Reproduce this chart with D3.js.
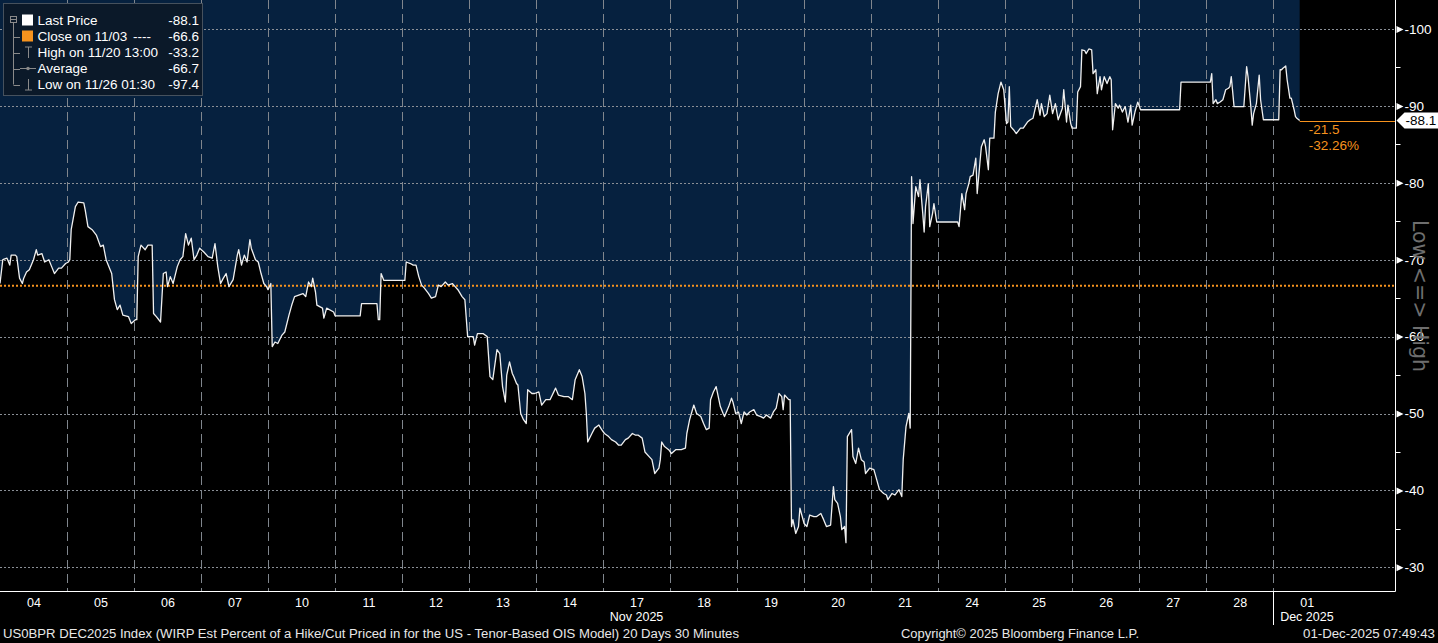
<!DOCTYPE html>
<html><head><meta charset="utf-8">
<script src="https://cdn.jsdelivr.net/npm/d3@7"></script>
<style>html,body{margin:0;padding:0;background:#000;overflow:hidden}</style>
</head><body><svg id="c" width="1438" height="643"></svg>
<script>
// ---------- DATA ----------
// 30-minute bar index since 04 Nov (48 bars per trading day)
const bars = [0,2,5,7,8,11,12,14,16,17,19,21,24,26,27,30,32,35,37,39,42,44,47,49,50,51,54,56,60,61,63,66,69,72,74,76,80,82,84,86,88,92,94,97,98,99,101,104,106,109,110,112,115,117,119,120,122,124,127,129,131,133,135,137,139,141,143,146,149,152,154,156,158,160,162,164,167,170,171,173,175,177,179,180,183,185,187,189,191,192,194,195,197,199,202,204,207,209,211,214,217,219,221,223,224,226,227,231,232,234,239,240,258,259,270,271,272,273,275,290,291,294,296,298,300,302,304,307,309,312,314,316,319,321,324,326,328,331,333,335,339,340,342,346,349,351,353,355,356,358,360,362,363,365,367,368,370,371,373,375,377,378,381,383,386,388,391,394,398,400,404,407,410,412,415,417,419,420,421,424,426,429,431,433,436,438,441,443,445,448,450,453,455,457,460,462,465,467,469,472,473,474,476,479,481,484,486,488,491,492,494,497,499,502,504,506,508,509,511,513,516,518,519,522,524,525,527,529,531,533,535,537,540,542,545,547,549,552,554,556,558,560,561,562,565,566,567,568,570,572,573,576,578,580,583,585,588,590,592,595,597,598,600,602,603,605,606,607,610,611,613,615,617,619,620,623,626,628,630,633,635,636,639,641,644,646,647,649,651,652,653,654,656,658,659,661,662,663,665,666,668,669,671,686,687,689,691,692,694,695,697,699,700,702,703,705,706,708,709,712,713,715,717,719,721,722,723,724,726,728,731,733,736,738,740,743,745,746,748,750,752,754,756,758,761,762,764,765,767,768,771,772,774,775,777,778,780,782,783,785,786,788,789,791,793,795,796,797,799,801,802,804,806,808,810,811,813,815,817,845,846,867,868,869,871,872,874,876,878,880,881,882,884,891,893,894,896,897,898,900,902,903,905,916,917,918,919,921,922,924,925,927,928,929,931];
const values = [-66.9,-70.0,-70.2,-69.3,-70.6,-70.6,-70.4,-67.6,-66.9,-67.6,-68.4,-68.7,-70.0,-71.3,-70.6,-70.8,-69.7,-70.0,-69.1,-68.2,-68.9,-68.9,-69.5,-69.7,-70.0,-73.9,-76.9,-77.5,-77.4,-76.5,-74.3,-73.9,-73.2,-71.7,-71.9,-70.0,-68.2,-64.8,-63.5,-64.1,-62.8,-62.6,-61.7,-62.2,-62.2,-70.4,-71.9,-71.3,-71.9,-71.9,-63.0,-62.6,-61.9,-68.2,-68.4,-66.5,-67.8,-66.9,-69.1,-70.0,-70.4,-73.4,-71.9,-72.8,-70.0,-70.6,-71.5,-71.0,-70.4,-70.2,-72.1,-69.1,-66.9,-67.6,-68.2,-66.5,-67.4,-70.6,-71.3,-69.3,-70.6,-69.7,-72.6,-71.5,-70.0,-69.7,-68.2,-66.9,-66.5,-66.1,-66.9,-58.7,-59.3,-59.1,-60.2,-60.6,-62.8,-64.1,-65.2,-65.4,-65.6,-65.2,-67.1,-66.5,-67.6,-65.8,-64.1,-63.7,-62.4,-63.7,-63.2,-62.7,-62.7,-64.3,-64.3,-62.2,-62.2,-68.2,-67.3,-67.3,-69.7,-69.5,-69.3,-69.3,-67.8,-66.7,-66.3,-65.6,-65.0,-65.2,-66.7,-66.5,-67.1,-66.7,-66.9,-66.5,-66.1,-65.2,-64.8,-60.0,-60.0,-58.9,-60.4,-60.4,-60.0,-54.8,-54.4,-57.0,-58.3,-57.8,-53.5,-51.5,-55.0,-56.7,-55.2,-54.8,-53.9,-53.7,-50.0,-49.2,-48.7,-53.1,-52.6,-52.6,-52.8,-51.1,-51.8,-51.8,-53.3,-52.4,-52.2,-52.2,-51.8,-54.4,-55.7,-54.8,-52.6,-50.0,-46.3,-47.4,-48.1,-48.5,-47.9,-47.4,-47.0,-46.6,-46.3,-45.9,-45.9,-46.6,-46.8,-47.4,-47.2,-47.2,-46.8,-45.0,-44.4,-44.0,-42.2,-42.9,-44.0,-46.3,-45.7,-45.3,-44.8,-45.3,-45.3,-45.3,-45.5,-47.4,-49.2,-51.1,-50.0,-49.6,-48.7,-47.9,-48.1,-51.8,-52.8,-53.5,-50.9,-50.0,-49.6,-50.9,-52.0,-51.5,-50.0,-50.2,-48.7,-50.2,-49.8,-50.2,-50.5,-49.8,-49.6,-49.4,-49.8,-49.4,-50.2,-50.7,-52.6,-52.2,-50.5,-52.4,-51.8,-51.8,-35.3,-36.2,-34.4,-35.3,-37.7,-35.7,-35.3,-36.8,-36.6,-36.6,-37.0,-36.2,-35.3,-35.5,-40.5,-38.8,-38.3,-36.6,-34.9,-35.3,-33.2,-47.0,-47.9,-44.4,-43.5,-45.5,-44.0,-43.7,-42.2,-42.9,-42.7,-41.4,-40.1,-39.6,-39.4,-38.8,-39.6,-39.4,-40.1,-39.2,-44.0,-48.3,-50.0,-48.1,-80.8,-74.7,-79.5,-78.2,-80.4,-76.0,-73.6,-76.9,-79.9,-74.3,-76.0,-77.3,-74.9,-74.9,-74.3,-78.6,-76.5,-78.6,-79.9,-80.8,-81.0,-83.2,-78.6,-82.7,-84.7,-85.6,-84.7,-81.7,-85.8,-85.8,-89.2,-91.6,-93.1,-92.1,-87.7,-87.9,-92.5,-87.3,-86.9,-86.4,-87.1,-87.1,-87.9,-88.2,-88.4,-90.8,-88.8,-90.3,-88.6,-89.0,-91.4,-89.0,-90.3,-88.2,-89.7,-92.1,-87.9,-90.1,-87.7,-87.1,-87.1,-91.8,-92.5,-97.3,-97.2,-96.8,-97.4,-97.3,-94.2,-94.7,-91.6,-93.8,-92.1,-93.8,-92.9,-93.8,-93.4,-86.9,-90.3,-89.7,-90.1,-89.2,-89.9,-87.9,-90.1,-87.5,-89.2,-90.5,-89.5,-89.5,-93.1,-93.1,-94.2,-90.3,-90.8,-90.3,-90.5,-90.8,-92.1,-92.3,-92.5,-93.8,-89.9,-89.9,-95.1,-93.8,-89.9,-87.5,-89.0,-90.3,-94.0,-90.8,-88.2,-88.2,-94.7,-94.7,-94.9,-95.2,-93.4,-91.0,-91.0,-89.5,-88.6,-88.4,-88.1];

const days = ["04","05","06","07","10","11","12","13","14","17","18","19","20","21","24","25","26","27","28","01"];
const months = ["Nov 2025","Dec 2025"];
const majorTicks = [-100,-90,-80,-70,-60,-50,-40,-30];
const minorTicks = [-95,-85,-75,-65,-55,-45,-35];
const closeValue = -66.6;
const lastValue = -88.1;
const changeTexts = ["-21.5","-32.26%"];
const legendLabels = ["Last Price","Close on 11/03","High on 11/20 13:00","Average","Low on 11/26 01:30"];
const legendValues = ["-88.1","-66.6","-33.2","-66.7","-97.4"];
const footerLeft = "US0BPR DEC2025 Index (WIRP Est Percent of a Hike/Cut Priced in for the US - Tenor-Based OIS Model) 20 Days 30 Minutes";
const footerMid = "Copyright\u00A9 2025 Bloomberg Finance L.P.";
const footerRight = "01-Dec-2025 07:49:43";
const sideLabel = "Low <=> High";

// ---------- LAYOUT ----------
const W = 1438, H = 643;
const PR = 1395.5, PB = 591;
const barsPerDay = 48, totalBars = 1000;
const NAVY = "#06213f", ORANGE = "#f7931e";
const FONT = "'Liberation Sans', Arial, sans-serif";

const x = d3.scaleLinear().domain([0, totalBars]).range([0, 1396]);
const y = d3.scaleLinear().domain([-103.77, -26.92]).range([0, PB]);

const svg = d3.select("#c");
svg.append("rect").attr("width", W).attr("height", H).attr("fill", "#000");

const data = bars.map((b, i) => ({ b, v: values[i] }));

// area above the line (navy)
svg.append("path").datum(data)
  .attr("fill", NAVY)
  .attr("d", d3.area().x(d => x(d.b)).y0(0).y1(d => y(d.v)));

// horizontal grid
svg.append("g").selectAll("line").data(majorTicks).join("line")
  .attr("x1", 0).attr("x2", PR)
  .attr("y1", d => Math.round(y(d)) + 0.5).attr("y2", d => Math.round(y(d)) + 0.5)
  .attr("stroke", "#8a8f96").attr("stroke-width", 1).attr("stroke-dasharray", "2,2");

// vertical day grid
const boundaries = d3.range(1, days.length).map(i => i * barsPerDay);
svg.append("g").selectAll("line").data(boundaries).join("line")
  .attr("x1", d => Math.round(x(d)) + 0.5).attr("x2", d => Math.round(x(d)) + 0.5)
  .attr("y1", 0).attr("y2", PB)
  .attr("stroke", "#80868d").attr("stroke-width", 1).attr("stroke-dasharray", "9,5");

// close line (orange dotted)
svg.append("line")
  .attr("x1", 0).attr("x2", PR)
  .attr("y1", y(closeValue)).attr("y2", y(closeValue))
  .attr("stroke", ORANGE).attr("stroke-width", 2).attr("stroke-dasharray", "2,2");

// price line
svg.append("path").datum(data)
  .attr("fill", "none").attr("stroke", "#f0f0f0").attr("stroke-width", 1.3)
  .attr("stroke-linejoin", "round")
  .attr("d", d3.line().x(d => x(d.b)).y(d => y(d.v)));

// last price orange line to axis
const lastBar = bars[bars.length - 1];
svg.append("line")
  .attr("x1", x(lastBar)).attr("x2", PR)
  .attr("y1", Math.round(y(lastValue)) + 0.5).attr("y2", Math.round(y(lastValue)) + 0.5)
  .attr("stroke", ORANGE).attr("stroke-width", 1);

svg.selectAll("text.chg").data(changeTexts).join("text")
  .attr("class", "chg")
  .attr("x", x(lastBar) + 9).attr("y", (d, i) => y(lastValue) + 9 + i * 16)
  .attr("dy", "0.35em")
  .attr("fill", ORANGE).attr("font-family", FONT).attr("font-size", 13.5)
  .text(d => d);

// axes lines
svg.append("line").attr("x1", PR).attr("x2", PR).attr("y1", 0).attr("y2", PB + 0.5)
  .attr("stroke", "#fff").attr("stroke-width", 1);
svg.append("line").attr("x1", 0).attr("x2", PR).attr("y1", PB + 0.5).attr("y2", PB + 0.5)
  .attr("stroke", "#fff").attr("stroke-width", 1);

// right axis
const yAxis = d3.axisRight(y).tickValues(majorTicks).tickSize(0).tickPadding(9)
  .tickFormat(d => String(d));
const gy = svg.append("g").attr("transform", `translate(${PR},0)`).call(yAxis);
gy.select(".domain").remove();
gy.selectAll("text").attr("fill", "#fff").attr("font-family", FONT).attr("font-size", 13.5);
gy.selectAll(".tick").append("path")
  .attr("d", "M1,-3.5L8,0L1,3.5Z").attr("fill", "#fff");
svg.append("g").selectAll("line").data(minorTicks).join("line")
  .attr("x1", PR).attr("x2", PR + 5)
  .attr("y1", d => Math.round(y(d)) + 0.5).attr("y2", d => Math.round(y(d)) + 0.5)
  .attr("stroke", "#fff");

// last price tag
const ly = y(lastValue);
svg.append("path")
  .attr("d", `M${PR + 1},${ly}L${PR + 9},${ly - 8}L${W},${ly - 8}L${W},${ly + 8}L${PR + 9},${ly + 8}Z`)
  .attr("fill", "#fff");
svg.append("text").attr("x", PR + 10).attr("y", ly).attr("dy", "0.35em")
  .attr("fill", "#000").attr("font-family", FONT).attr("font-size", 13.5).text(lastValue.toFixed(1));

// side label
svg.append("text")
  .attr("transform", `translate(1420,${(220 + 372) / 2}) rotate(90)`)
  .attr("text-anchor", "middle").attr("dy", "0.35em")
  .attr("fill", "#6e6e6e").attr("font-family", "'DejaVu Sans', sans-serif").attr("font-size", 21)
  .attr("textLength", 152).attr("lengthAdjust", "spacingAndGlyphs")
  .text(sideLabel);

// bottom axis (day labels)
const dayCenters = days.map((d, i) => i * barsPerDay + barsPerDay / 2);
const xAxis = d3.axisBottom(x).tickValues(dayCenters).tickSize(0).tickPadding(7)
  .tickFormat((d, i) => days[i]);
const gx = svg.append("g").attr("transform", `translate(0,${PB})`).call(xAxis);
gx.select(".domain").remove();
gx.selectAll("text").attr("fill", "#fff").attr("font-family", FONT).attr("font-size", 12.5);

// month labels
const decStart = (days.length - 1) * barsPerDay;
svg.append("text").attr("x", x(decStart / 2)).attr("y", 617).attr("dy", "0.35em")
  .attr("text-anchor", "middle").attr("fill", "#fff").attr("font-family", FONT).attr("font-size", 12.5)
  .text(months[0]);
svg.append("text").attr("x", x(decStart) + 7).attr("y", 617).attr("dy", "0.35em")
  .attr("text-anchor", "start").attr("fill", "#fff").attr("font-family", FONT).attr("font-size", 12.5)
  .text(months[1]);
svg.append("line").attr("x1", Math.round(x(decStart)) + 0.5).attr("x2", Math.round(x(decStart)) + 0.5)
  .attr("y1", PB).attr("y2", 625).attr("stroke", "#fff");

// footer
svg.append("text").attr("x", 3).attr("y", 634).attr("dy", "0.35em")
  .attr("fill", "#e8e8e8").attr("font-family", FONT).attr("font-size", 12.5)
  .attr("textLength", 736).attr("lengthAdjust", "spacingAndGlyphs").text(footerLeft);
svg.append("text").attr("x", 901).attr("y", 634).attr("dy", "0.35em")
  .attr("fill", "#e8e8e8").attr("font-family", FONT).attr("font-size", 12.5)
  .attr("textLength", 238).attr("lengthAdjust", "spacingAndGlyphs").text(footerMid);
svg.append("text").attr("x", 1303).attr("y", 634).attr("dy", "0.35em")
  .attr("fill", "#e8e8e8").attr("font-family", FONT).attr("font-size", 12.5)
  .attr("textLength", 132).attr("lengthAdjust", "spacingAndGlyphs").text(footerRight);

// legend
const lg = svg.append("g");
lg.append("rect").attr("x", 3.5).attr("y", 3.5).attr("width", 199).attr("height", 92)
  .attr("fill", "#0b1929").attr("stroke", "#46515d");
const rowY = legendLabels.map((d, i) => 20.5 + i * 16);
const treeC = "#8a8a8a";
lg.append("rect").attr("x", 10.5).attr("y", 16.5).attr("width", 6).attr("height", 6)
  .attr("fill", "none").attr("stroke", treeC);
lg.append("line").attr("x1", 11).attr("x2", 16).attr("y1", 19.5).attr("y2", 19.5).attr("stroke", treeC);
lg.append("line").attr("x1", 13.5).attr("x2", 13.5).attr("y1", 23).attr("y2", rowY[4]).attr("stroke", treeC);
lg.selectAll("line.br").data(rowY.slice(1)).join("line").attr("class", "br")
  .attr("x1", 13.5).attr("x2", 20).attr("y1", d => Math.round(d) + 0.5).attr("y2", d => Math.round(d) + 0.5)
  .attr("stroke", treeC);
lg.append("rect").attr("x", 22).attr("y", rowY[0] - 6).attr("width", 11).attr("height", 11).attr("fill", "#fff");
lg.append("rect").attr("x", 22).attr("y", rowY[1] - 6).attr("width", 11).attr("height", 11).attr("fill", ORANGE);
lg.append("path").attr("d", `M25,${rowY[2] - 5.5}H32M28.5,${rowY[2] - 5.5}V${rowY[2] + 5.5}`)
  .attr("stroke", treeC).attr("fill", "none");
lg.append("path").attr("d", `M20,${rowY[3]}H36`).attr("stroke", treeC);
lg.append("circle").attr("cx", 28).attr("cy", rowY[3]).attr("r", 1.8).attr("fill", treeC);
lg.append("path").attr("d", `M28.5,${rowY[4] - 5.5}V${rowY[4] + 5.5}M25,${rowY[4] + 5.5}H32`)
  .attr("stroke", treeC).attr("fill", "none");
lg.selectAll("text.lab").data(legendLabels).join("text").attr("class", "lab")
  .attr("x", 37.5).attr("y", (d, i) => rowY[i]).attr("dy", "0.35em")
  .attr("fill", "#fff").attr("font-family", FONT).attr("font-size", 13.5).text(d => d);
lg.append("text").attr("x", 133).attr("y", rowY[1]).attr("dy", "0.35em")
  .attr("fill", "#fff").attr("font-family", FONT).attr("font-size", 13.5).text("----");
lg.selectAll("text.val").data(legendValues).join("text").attr("class", "val")
  .attr("x", 199).attr("y", (d, i) => rowY[i]).attr("dy", "0.35em").attr("text-anchor", "end")
  .attr("fill", "#fff").attr("font-family", FONT).attr("font-size", 13.5).text(d => d);
</script></body></html>
